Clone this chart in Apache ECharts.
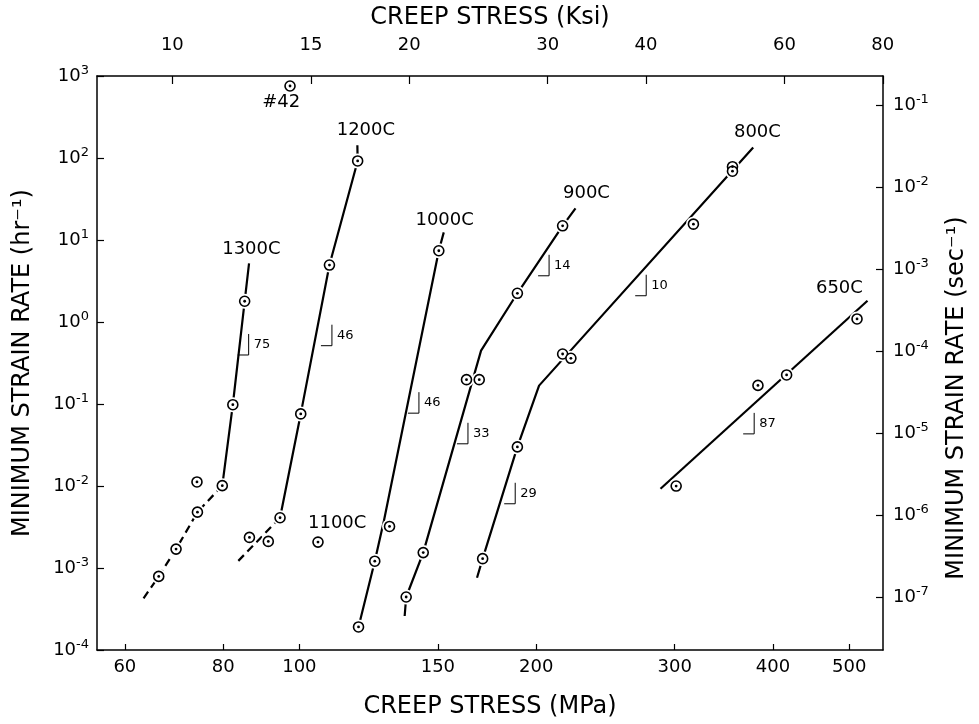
<!DOCTYPE html>
<html><head><meta charset="utf-8">
<script src="https://cdn.jsdelivr.net/npm/echarts@6/dist/echarts.min.js"></script>
<style>html,body{margin:0;padding:0;background:#fff}#c{width:979px;height:724px}</style>
</head><body><div id="c"></div>
<script>
// ---------- axis ticks ----------
const mpaTicks = [60, 80, 100, 150, 200, 300, 400, 500];
const ksiTicks = [10, 15, 20, 30, 40, 60, 80];
const hrExponents = [3, 2, 1, 0, -1, -2, -3, -4];
const secExponents = [-1, -2, -3, -4, -5, -6, -7];
const KSI_TO_MPA = 6.895;
const SEC_AXIS_SHIFT = 3.64;   // log10(hr^-1) position of 10^0 sec^-1 as drawn on the right axis
const X_RANGE = [55.3, 552];    // MPa
const Y_RANGE = [1e-4, 1e3];    // hr^-1

// ---------- data points [stress MPa, strain rate hr^-1] ----------
const pts1300 = [[85.2, 1.79], [82.3, 0.098], [79.8, 0.0101], [74.1, 0.0112], [74.2, 0.0048], [69.7, 0.0017], [66.25, 0.00079]];
const pts1200 = [[118.6, 92], [109.2, 4.95], [100.4, 0.0757], [94.5, 0.0041], [91.3, 0.00211], [86.4, 0.00236]];
const pts1100 = [[105.6, 0.00207]];
const pts1000 = [[150.4, 7.39], [130.2, 0.00321], [124.7, 0.00121], [118.9, 0.000191]];
const pts900  = [[216.1, 14.9], [189.3, 2.24], [163.1, 0.198], [169.3, 0.198], [143.7, 0.00154], [136.7, 0.000443]];
const pts800  = [[355.3, 78.3], [355.3, 69.0], [316.9, 15.6], [216.1, 0.407], [221.4, 0.361], [189.3, 0.030], [171.0, 0.0013]];
const pts650  = [[511.6, 1.089], [416.3, 0.226], [382.8, 0.1686], [301.3, 0.00998]];
const pts42   = [[97.3, 755]];

// ---------- fitted lines [stress MPa, strain rate hr^-1] ----------
const line1300 = [[86.3, 5.2], [85.2, 1.79], [82.3, 0.098], [79.8, 0.0101]];
const dash1300 = [[79.8, 0.0101], [74.2, 0.0048], [69.7, 0.0017], [66.25, 0.00079], [62.9, 0.000385]];
const line1200 = [[118.5, 143], [118.6, 92], [109.2, 4.95], [100.4, 0.0757], [94.5, 0.0041]];
const dash1200 = [[94.5, 0.0041], [83.2, 0.00116]];
const line1000 = [[152.6, 12.4], [150.4, 7.39], [128.1, 0.0038], [124.7, 0.00121], [118.9, 0.000191]];
const line900  = [[224.4, 24.3], [216.1, 14.9], [189.3, 2.24], [170.2, 0.447], [143.7, 0.00154], [136.7, 0.000443], [136.1, 0.00026]];
const line800  = [[377.5, 134.3], [201.7, 0.1675], [189.3, 0.030], [171.0, 0.0013], [168.2, 0.00076]];
const line650  = [[287.8, 0.00925], [527.5, 1.816]];

// ---------- annotations ----------
const curveLabels = ['1300C', '1200C', '1000C', '900C', '800C', '650C', '1100C', '#42'];
const curveLabelPos = [[86.9, 7.6], [121.5, 219.8], [153.0, 17.6], [231.7, 36.9], [382.2, 204.6], [485.9, 2.57], [111.7, 0.00347], [94.8, 481.6]];
const slopeLabels = ['75', '46', '46', '33', '14', '29', '10', '87'];
const slopePos = [[86.2, 0.396], [110.0, 0.514], [141.9, 0.0773], [163.8, 0.0327], [207.7, 3.66], [188.1, 0.00607], [276.0, 2.09], [378.6, 0.0432]];

// ---------- build ----------
const lg = Math.log10;
const L = arr => arr.map(([x, y]) => [lg(x), lg(y)]);
const FONT = 'DejaVu Sans';
const allPts = [].concat(pts1300, pts1200, pts1100, pts1000, pts900, pts800, pts650, pts42);

const supRich = {
  b: { fontSize: 18, fontFamily: FONT, color: '#000', lineHeight: 22 },
  s: { fontSize: 13, fontFamily: FONT, color: '#000', padding: [0, 0, 11, 0] }
};

function lineSeries(data, dashed) {
  return {
    type: 'line', data: L(data), showSymbol: false, silent: true, z: 2,
    xAxisIndex: 0, yAxisIndex: 0,
    lineStyle: { color: '#000', width: 2.2, type: dashed ? [8, 5] : 'solid', cap: 'butt' }
  };
}
function scatter(size, color, border, z) {
  return {
    type: 'scatter', data: L(allPts), symbol: 'circle', symbolSize: size, z: z, silent: true,
    xAxisIndex: 0, yAxisIndex: 0,
    itemStyle: { color: color, borderColor: border ? '#000' : color, borderWidth: border ? 1.6 : 0, opacity: 1 }
  };
}

const axisLineStyle = { show: true, onZero: false, lineStyle: { color: '#000', width: 1.5 } };

const option = {
  animation: false,
  backgroundColor: '#fff',
  grid: { left: 97, right: 96, top: 76, bottom: 72, containLabel: false },
  xAxis: [
    {
      type: 'value', position: 'bottom', min: lg(X_RANGE[0]), max: lg(X_RANGE[1]),
      axisLine: axisLineStyle, splitLine: { show: false },
      axisTick: { show: true, inside: true, length: 6, lineStyle: { color: '#000', width: 1.2 }, customValues: mpaTicks.map(lg) },
      axisLabel: { show: true, customValues: mpaTicks.map(lg), formatter: v => String(Math.round(Math.pow(10, v))),
        fontSize: 18, fontFamily: FONT, color: '#000', margin: 8 },
      name: 'CREEP STRESS (MPa)', nameLocation: 'middle', nameGap: 45,
      nameTextStyle: { fontSize: 24, fontFamily: FONT, color: '#000' }
    },
    {
      type: 'value', position: 'top', min: lg(X_RANGE[0]), max: lg(X_RANGE[1]),
      axisLine: axisLineStyle, splitLine: { show: false },
      axisTick: { show: true, inside: true, length: 8, lineStyle: { color: '#000', width: 1.2 }, customValues: ksiTicks.map(k => lg(k * KSI_TO_MPA)) },
      axisLabel: { show: true, customValues: ksiTicks.map(k => lg(k * KSI_TO_MPA)), formatter: v => String(Math.round(Math.pow(10, v) / KSI_TO_MPA)),
        fontSize: 18, fontFamily: FONT, color: '#000', margin: 22 },
      name: 'CREEP STRESS (Ksi)', nameLocation: 'middle', nameGap: 46,
      nameTextStyle: { fontSize: 24, fontFamily: FONT, color: '#000' }
    }
  ],
  yAxis: [
    {
      type: 'value', position: 'left', min: lg(Y_RANGE[0]), max: lg(Y_RANGE[1]),
      axisLine: axisLineStyle, splitLine: { show: false },
      axisTick: { show: true, inside: true, length: 7, lineStyle: { color: '#000', width: 1.2 }, customValues: hrExponents },
      axisLabel: { show: true, customValues: hrExponents, formatter: v => '{b|10}{s|' + Math.round(v) + '}',
        rich: supRich, margin: 8 },
      name: 'MINIMUM STRAIN RATE (hr⁻¹)', nameLocation: 'middle', nameRotate: 90, nameGap: 62,
      nameTextStyle: { fontSize: 24, fontFamily: FONT, color: '#000' }
    },
    {
      type: 'value', position: 'right', min: lg(Y_RANGE[0]), max: lg(Y_RANGE[1]),
      axisLine: axisLineStyle, splitLine: { show: false },
      axisTick: { show: true, inside: true, length: 7, lineStyle: { color: '#000', width: 1.2 }, customValues: secExponents.map(k => k + SEC_AXIS_SHIFT) },
      axisLabel: { show: true, customValues: secExponents.map(k => k + SEC_AXIS_SHIFT), formatter: v => '{b|10}{s|' + Math.round(v - SEC_AXIS_SHIFT) + '}',
        rich: supRich, margin: 10 },
      name: 'MINIMUM STRAIN RATE (sec⁻¹)', nameLocation: 'middle', nameRotate: 90, nameGap: 62,
      nameTextStyle: { fontSize: 24, fontFamily: FONT, color: '#000', padding: [0, 70, 0, 0] }
    }
  ],
  series: [
    lineSeries(line1300), lineSeries(dash1300, true),
    lineSeries(line1200), lineSeries(dash1200, true),
    lineSeries(line1000), lineSeries(line900), lineSeries(line800), lineSeries(line650),
    scatter(15, '#fff', false, 3),
    scatter(10, '#fff', true, 4),
    scatter(2.8, '#000', false, 5),
    {
      type: 'custom', z: 6, silent: true, xAxisIndex: 0, yAxisIndex: 0,
      data: L(slopePos),
      renderItem: (params, api) => {
        const p = api.coord([api.value(0), api.value(1)]);
        const h = 21, w = 11;
        return { type: 'group', children: [
          { type: 'polyline', shape: { points: [[p[0] - w, p[1]], [p[0], p[1]], [p[0], p[1] - h]] },
            style: { stroke: '#000', lineWidth: 1, fill: null } },
          { type: 'text', style: { text: slopeLabels[params.dataIndex], x: p[0] + 5, y: p[1] - h / 2,
            fontSize: 13, fontFamily: FONT, fill: '#000', align: 'left', verticalAlign: 'middle' } }
        ] };
      }
    },
    {
      type: 'custom', z: 6, silent: true, xAxisIndex: 0, yAxisIndex: 0,
      data: L(curveLabelPos),
      renderItem: (params, api) => {
        const p = api.coord([api.value(0), api.value(1)]);
        return { type: 'text', style: { text: curveLabels[params.dataIndex], x: p[0], y: p[1],
          fontSize: 18, fontFamily: FONT, fill: '#000', align: 'center', verticalAlign: 'middle' } };
      }
    }
  ]
};

const chart = echarts.init(document.getElementById('c'), null, { renderer: 'canvas' });
chart.setOption(option);
</script>
</body></html>
